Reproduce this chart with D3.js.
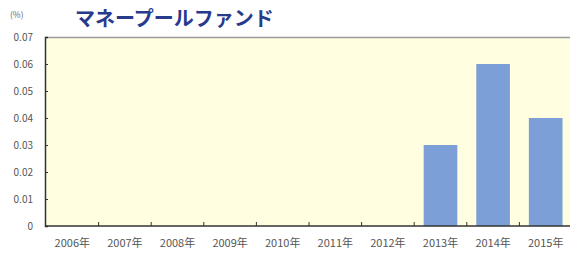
<!DOCTYPE html>
<html>
<head>
<meta charset="utf-8">
<script src="https://cdn.jsdelivr.net/npm/d3@7"></script>
<style>
  body { margin: 0; background: #fff; }
  text { font-family: "Noto Sans CJK JP", "DejaVu Sans", sans-serif; }
</style>
</head>
<body>
<svg class="chart"></svg>
<script>
var years = ["2006年", "2007年", "2008年", "2009年", "2010年", "2011年", "2012年", "2013年", "2014年", "2015年"];
var values = [0, 0, 0, 0, 0, 0, 0, 0.03, 0.06, 0.04];
var yTicks = [0, 0.01, 0.02, 0.03, 0.04, 0.05, 0.06, 0.07];

var width = 570;
var height = 255;
var plotLeft = 45, plotTop = 37, plotRight = 572, plotBottom = 226;

var svg = d3.select(".chart").attr("width", width).attr("height", height);

var x = d3.scaleBand()
    .domain(years)
    .range([plotLeft + 1, plotRight])
    .paddingInner(0.36)
    .paddingOuter(0.18);

var y = d3.scaleLinear()
    .domain([0, 0.07])
    .range([plotBottom, plotTop]);

// plot background
svg.append("rect")
    .attr("x", plotLeft).attr("y", plotTop)
    .attr("width", plotRight - plotLeft).attr("height", plotBottom - plotTop)
    .attr("fill", "#fffee0");

svg.append("line")
    .attr("x1", plotLeft).attr("x2", plotRight)
    .attr("y1", plotTop + 0.5).attr("y2", plotTop + 0.5)
    .attr("stroke", "#9a9a9a").attr("stroke-width", 1.5);

// bars
svg.selectAll(".bar")
    .data(values)
    .enter().append("rect")
    .attr("class", "bar")
    .attr("x", function(d, i){ return x(years[i]); })
    .attr("y", function(d){ return y(d); })
    .attr("width", x.bandwidth())
    .attr("height", function(d){ return plotBottom - y(d); })
    .attr("fill", "#7c9fd8");

// y axis
var yAxis = d3.axisRight(y)
    .tickValues(yTicks)
    .tickSize(3)
    .tickFormat("");
var ya = svg.append("g")
    .attr("transform", "translate(" + plotLeft + ",0)")
    .call(yAxis);
ya.select(".domain").attr("stroke", "#333").attr("stroke-width", 1.5);
ya.selectAll(".tick line").attr("stroke", "#333");

svg.selectAll(".ylab")
    .data(yTicks)
    .enter().append("text")
    .attr("class", "ylab")
    .attr("x", 33)
    .attr("y", function(d){ return y(d) + 3.5; })
    .attr("text-anchor", "end")
    .attr("font-size", 10)
    .attr("fill", "#555")
    .text(function(d){ return d === 0 ? "0" : d3.format(".2f")(d); });

// x axis: ticks between categories
var bounds = years.slice(1).map(function(c){ return x(c) - (x.step() - x.bandwidth()) / 2; });
svg.append("line")
    .attr("x1", plotLeft).attr("x2", plotRight)
    .attr("y1", plotBottom).attr("y2", plotBottom)
    .attr("stroke", "#333").attr("stroke-width", 1.5);
svg.selectAll(".xtick")
    .data(bounds)
    .enter().append("line")
    .attr("x1", function(d){ return d; }).attr("x2", function(d){ return d; })
    .attr("y1", plotBottom).attr("y2", plotBottom - 4)
    .attr("stroke", "#333");

svg.selectAll(".xlab")
    .data(years)
    .enter().append("text")
    .attr("x", function(d){ return x(d) + x.bandwidth() / 2; })
    .attr("y", 247)
    .attr("text-anchor", "middle")
    .attr("font-size", 11)
    .attr("fill", "#555")
    .text(function(d){ return d; });

// titles
svg.append("text")
    .attr("x", 10).attr("y", 18)
    .attr("font-size", 8.5)
    .attr("fill", "#666")
    .text("(%)");

svg.append("text")
    .attr("x", 75).attr("y", 26)
    .attr("font-size", 20)
    .attr("font-weight", "bold")
    .attr("fill", "#283a8c")
    .text("マネープールファンド");
</script>
</body>
</html>
